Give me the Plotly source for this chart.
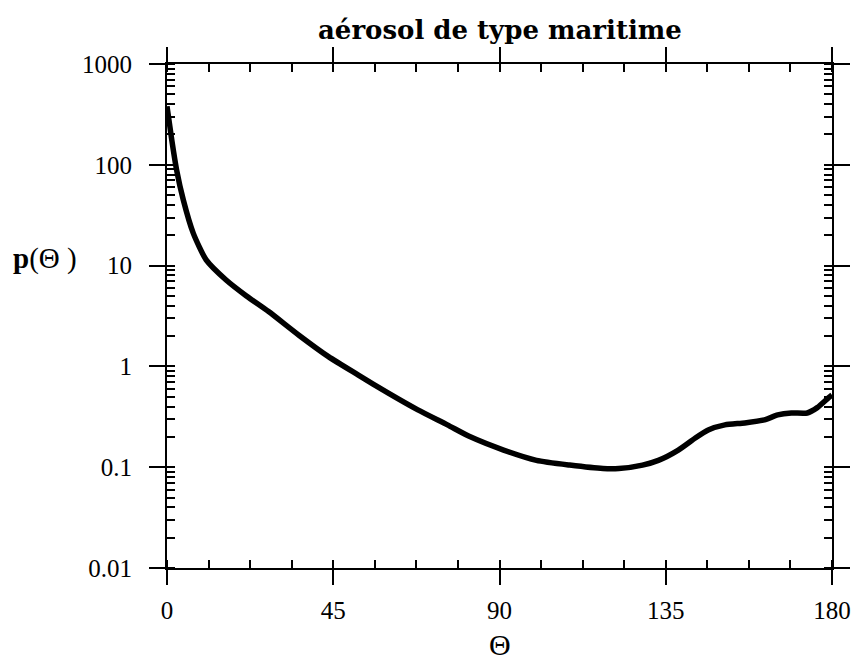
import plotly.graph_objects as go

# Scattering angle (degrees) and phase function values
theta = [0, 1.3, 2.6, 4.4, 7.1, 10.6, 16, 21.5, 27.5, 35.7, 43.7, 51.8, 59.8,
         67.9, 75.9, 82.1, 91.1, 100, 109, 118, 122.3, 128.7, 133, 138.4, 143,
         146.5, 151, 156.4, 161.7, 165.3, 169, 173.3, 176, 179.1, 180]
p_theta = [380, 176, 89, 45, 21, 11.4, 7.2, 5.0, 3.5, 2.04, 1.25, 0.82, 0.545,
           0.37, 0.263, 0.2, 0.148, 0.117, 0.105, 0.097, 0.097, 0.105, 0.117, 0.148, 0.195,
           0.234, 0.263, 0.275, 0.295, 0.33, 0.345, 0.345, 0.39, 0.49, 0.52]

x_ticks = [0, 45, 90, 135, 180]
y_ticks = [0.01, 0.1, 1, 10, 100, 1000]
y_ticktext = ["0.01", "0.1", "1", "10", "100", "1000"]

title_text = "aérosol de type maritime"
x_title = "Θ"
y_title = "<b>p</b>(Θ )"

SERIF = "Liberation Serif"

fig = go.Figure()
fig.add_trace(go.Scatter(
    x=theta, y=p_theta, mode="lines",
    line=dict(color="black", width=5.5, shape="spline", smoothing=0.6),
    showlegend=False,
))

axis_common = dict(
    showline=True, linecolor="black", linewidth=2, mirror="ticks",
    ticks="outside", tickwidth=2, tickcolor="black",
    showgrid=False, zeroline=False,
    tickfont=dict(family=SERIF, size=25, color="black"),
)

fig.update_xaxes(
    range=[0, 180], tickmode="array", tickvals=x_ticks,
    ticklen=15, ticklabelstandoff=4,
    minor=dict(ticks="inside", ticklen=8, tickwidth=1.5, tickcolor="black",
               dtick=11.25, tick0=0, showgrid=False),
    **axis_common,
)
fig.update_yaxes(
    type="log", range=[-2, 3], tickmode="array", tickvals=y_ticks, ticktext=y_ticktext,
    ticklen=16, ticklabelstandoff=12,
    minor=dict(ticks="inside", ticklen=8, tickwidth=1.5, tickcolor="black",
               dtick="D1", showgrid=False),
    **axis_common,
)

plot_h = 662 - 64 - 94
plot_w = 863 - 167 - 25

fig.update_layout(
    width=863, height=662,
    margin=dict(l=167, r=25, t=64, b=94),
    paper_bgcolor="white", plot_bgcolor="white",
    font=dict(family=SERIF, color="black"),
    annotations=[
        dict(text=title_text, x=0.5, y=1.0, xref="paper", yref="paper",
             yshift=34, xanchor="center", yanchor="middle", showarrow=False,
             font=dict(family="DejaVu Serif", size=26, color="black", weight="bold")),
        dict(text=x_title, x=0.5, y=0, xref="paper", yref="paper",
             yshift=-76, xanchor="center", yanchor="middle", showarrow=False,
             font=dict(family=SERIF, size=30, color="black")),
        dict(text=y_title, x=(10 - 167) / plot_w, y=(662 - 94 - 258) / plot_h,
             xref="paper", yref="paper",
             showarrow=False, xanchor="left", yanchor="middle",
             font=dict(family=SERIF, size=29, color="black")),
    ],
)

fig.write_html("out.html")
